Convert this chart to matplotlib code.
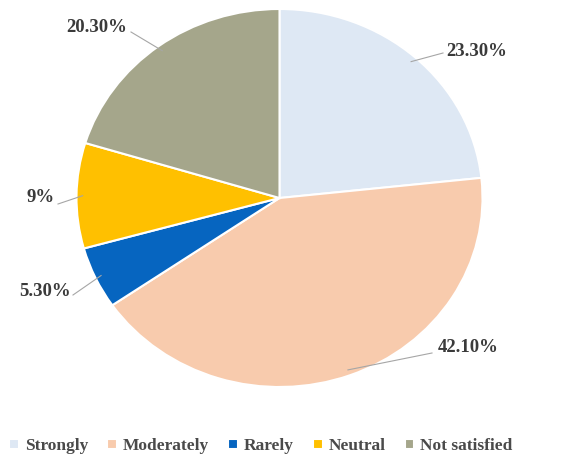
import matplotlib

matplotlib.use("Agg")
import matplotlib.pyplot as plt
import numpy as np

categories = ["Strongly", "Moderately", "Rarely", "Neutral", "Not satisfied"]
values = [23.3, 42.1, 5.3, 9.0, 20.3]
value_labels = ["23.30%", "42.10%", "5.30%", "9%", "20.30%"]

COLORS = ["#dee8f4", "#f8cbad", "#0665c0", "#ffc000", "#a5a68b"]
INK = "#3a3a3a"
LINE = "#a6a6a6"

# pixel geometry of the (slightly stretched) pie inside the 566x459 canvas
W, H = 566, 459
CX, CY = 279.5, 198
RX, RY = 203, 189
# where each label text sits (pixels) and where its leader line bends
LABEL_PX = [(477, 52), (468, 348), (45, 292), (41, 198), (97, 27)]
ELBOW_PX = [(443, 53), (432, 353), (73, 295), (58, 204), (131, 32)]

plt.rcParams["font.family"] = ["Liberation Serif", "DejaVu Serif"]

fig = plt.figure(figsize=(W / 100, H / 100), dpi=100)
ax = fig.add_axes([0, 0, 1, 1])

wedges, _ = ax.pie(values, colors=COLORS, startangle=90, counterclock=False,
                   radius=1.0, wedgeprops=dict(edgecolor="white", linewidth=1.5))
ax.set_aspect("auto")
ax.set_xlim(-CX / RX, (W - CX) / RX)
ax.set_ylim(-(H - CY) / RY, CY / RY)
ax.axis("off")


def px(p):
    return ((p[0] - CX) / RX, (CY - p[1]) / RY)


for w, lab, tpos, epos in zip(wedges, value_labels, LABEL_PX, ELBOW_PX):
    mid = np.deg2rad((w.theta1 + w.theta2) / 2)
    edge = (0.97 * np.cos(mid), 0.97 * np.sin(mid))
    ex, ey = px(epos)
    ax.plot([edge[0], ex], [edge[1], ey], color=LINE, lw=0.8)
    ax.text(*px(tpos), lab, ha="center", va="center", fontsize=13.5,
            fontweight="bold", color=INK)

fig.legend(wedges, categories, loc="center", bbox_to_anchor=(261 / W, 1 - 446 / H),
           ncol=5, frameon=False, handlelength=0.55, handleheight=0.55,
           handletextpad=0.35, columnspacing=1.1,
           prop=dict(family=["Liberation Serif"], weight="bold", size=12.5))
for t in fig.legends[0].get_texts():
    t.set_color("#4a4a4a")

fig.savefig("out.png", dpi=100, facecolor="white")
